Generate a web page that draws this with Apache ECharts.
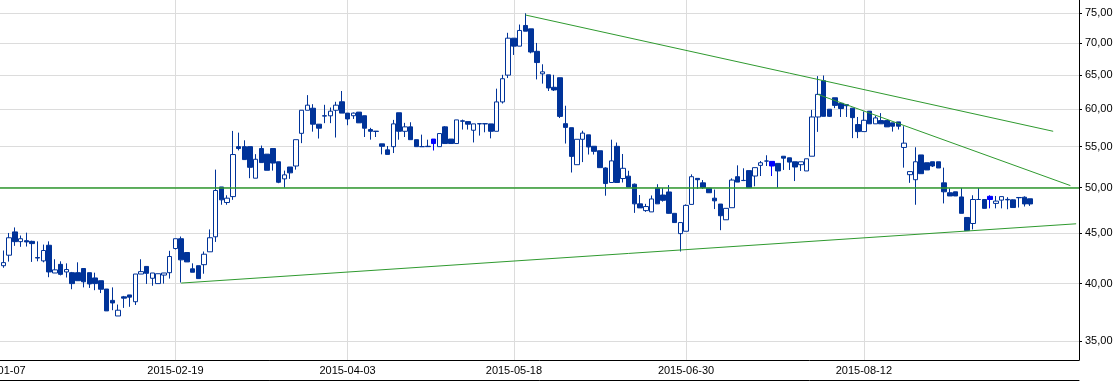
<!DOCTYPE html>
<html><head><meta charset="utf-8">
<script src="https://cdn.jsdelivr.net/npm/echarts@6/dist/echarts.min.js"></script>
<style>html,body{margin:0;padding:0;background:#fff}#c{width:1118px;height:381px}</style>
</head><body><div id="c"></div>
<script>
// ---- data ----
const startDate = '2015-01-07';
const categoryCount = 189;
const holidays = ['2015-04-03', '2015-04-06', '2015-05-01', '2015-05-25'];
const tickLabels = ['2015-01-07', '2015-02-19', '2015-04-03', '2015-05-18', '2015-06-30', '2015-08-12'];
const yTicks = [35, 40, 45, 50, 55, 60, 65, 70, 75];

// candles from 2015-01-08 onwards
const opens = [41.7,42.73,45.11,44.1,44.2,44.13,42.5,42.17,43.73,41.0,41.83,41.1,41.03,41.03,41.43,41.03,40.53,40.27,39.5,38.47,37.1,38.79,38.96,38.35,40.9,41.63,40.5,40.0,40.8,41.03,43.4,
44.4,43.0,41.4,41.7,41.8,43.07,44.6,50.08,48.3,48.97,55.0,55.0,55.0,51.11,54.76,54.05,54.76,53.1,51.03,52.46,52.58,56.73,59.86,60.14,57.95,59.1,59.09,59.86,
61.05,59.46,59.1,59.6,59.1,57.23,57.02,55.36,54.59,55.0,59.51,57.0,57.59,55.9,55.0,55.05,55.98,55.0,57.59,55.98,55.4,58.4,58.3,57.14,58.02,58.02,57.99,
57.0,61.03,64.95,70.78,69.48,72.9,72.33,68.65,65.15,65.0,63.14,64.56,58.02,57.48,52.74,55.95,56.53,55.05,54.48,52.34,50.6,55.04,51.07,51.35,50.4,48.15,47.4,47.26,49.96,49.15,49.5,
47.1,44.93,45.18,48.09,51.09,50.56,49.93,48.79,48.13,46.4,47.72,51.29,50.85,52.02,51.37,52.66,53.19,53.15,52.9,53.79,53.59,53.1,52.74,51.98,53.79,58.93,64.12,60.0,61.62,
60.83,60.64,60.15,57.9,56.96,59.73,58.0,58.44,58.44,58.13,58.26,54.9,51.53,50.93,53.95,52.98,53.1,53.1,50.56,49.41,49.52,48.93,46.65,46.0,48.64,48.64,48.64,48.2,48.57,48.65,48.6,48.87,48.9,48.72];
const highs = [43.2,45.0,45.58,44.73,45.03,44.2,44.13,43.8,44.13,42.33,42.13,41.93,41.1,42.03,41.43,41.03,41.03,40.27,39.5,39.65,38.1,38.87,38.96,40.9,42.33,41.63,41.0,40.93,41.0,43.17,44.4,
44.63,43.0,41.93,41.7,43.1,45.37,52.14,50.08,49.12,57.05,56.82,55.82,55.0,54.05,55.14,54.05,54.76,53.1,52.02,52.46,55.9,59.86,62.0,60.71,57.95,60.62,60.24,61.05,
62.6,59.46,59.55,59.6,59.1,57.46,57.02,55.36,55.08,58.53,59.51,58.13,58.21,55.9,56.56,55.9,55.98,56.7,57.68,55.98,58.53,58.57,58.3,57.99,58.02,58.02,57.99,
62.94,65.0,71.67,70.78,73.06,75.0,72.33,70.0,66.61,65.0,65.0,64.56,60.49,57.48,55.95,57.07,56.53,55.05,54.48,52.42,55.9,55.53,54.07,52.0,50.48,49.15,48.15,49.1,50.4,49.96,50.3,
47.1,46.1,48.09,51.57,51.09,50.89,49.93,49.78,48.13,47.65,51.09,52.66,52.3,52.02,52.38,53.19,53.91,53.15,52.9,53.79,53.59,53.1,53.1,53.47,59.91,64.8,64.9,60.0,61.62,
60.83,60.64,60.15,58.93,59.69,59.73,59.1,59.46,58.44,58.13,58.26,57.68,51.9,54.92,53.95,52.98,53.1,53.1,52.38,49.93,49.52,49.96,46.65,49.12,49.96,48.64,49.12,49.04,48.97,48.9,48.65,48.87,49.0,48.72];
const lows = [41.5,42.1,43.67,43.57,43.6,42.07,42.13,42.03,40.6,41.0,40.77,40.57,39.48,40.27,39.65,39.6,39.39,39.13,37.54,37.6,37.1,37.8,37.9,38.06,40.9,39.97,39.8,40.0,40.0,40.47,43.3,
40.1,42.07,41.07,40.47,40.93,43.07,44.07,48.05,48.05,48.6,54.52,53.37,51.11,51.11,53.0,52.06,52.02,50.52,50.0,51.03,52.14,55.45,59.86,56.95,56.05,58.09,58.09,56.18,
59.46,57.81,58.66,58.13,56.25,55.9,56.25,54.02,54.02,54.19,55.9,56.25,55.9,55.0,55.0,55.0,54.51,55.0,55.4,55.4,55.4,57.23,57.23,55.54,56.43,56.87,56.07,
57.0,60.8,64.51,68.07,69.48,71.94,68.33,64.31,63.68,62.6,62.6,58.78,55.4,51.79,52.74,53.06,54.0,54.0,52.38,49.07,50.6,50.6,50.6,50.07,47.15,47.7,47.26,47.26,48.15,48.4,47.07,
46.1,43.1,45.18,48.09,49.85,49.85,49.41,47.57,45.29,46.4,47.72,50.65,50.77,50.0,50.16,51.37,52.58,51.37,50.0,52.1,52.1,50.77,51.98,51.98,53.79,56.92,59.02,58.93,60.15,
58.93,58.93,56.1,56.1,56.96,58.0,58.0,58.0,57.59,56.96,57.23,52.38,50.56,48.05,51.65,52.1,52.46,52.34,48.2,49.04,49.04,47.1,45.25,45.37,48.64,47.65,47.65,47.65,47.65,47.55,47.74,47.74,47.85,47.92];
const closes = [42.0,44.5,44.1,44.4,44.07,43.9,42.45,43.2,41.1,41.3,40.87,41.33,40.0,40.27,40.17,39.97,40.0,39.48,37.54,38.24,37.6,38.67,38.76,40.9,41.13,40.97,41.0,40.93,41.0,42.6,44.4,
42.27,42.07,41.07,40.47,42.83,44.5,49.67,48.6,48.79,54.0,54.76,53.37,52.42,53.41,53.0,52.06,52.94,50.63,51.51,51.75,55.9,59.86,60.57,57.95,57.41,59.05,59.73,60.57,
59.46,58.66,59.46,58.13,57.41,57.0,56.98,55.04,54.02,57.99,57.0,57.59,55.9,55.0,55.0,55.0,55.4,56.7,55.4,55.4,58.53,58.35,57.95,57.99,57.99,57.99,57.0,
61.03,64.41,70.78,69.48,72.06,71.94,68.54,66.88,65.45,63.04,62.75,59.01,57.52,53.77,55.95,56.76,54.96,54.4,52.38,50.48,53.21,50.6,52.3,50.07,48.15,47.7,47.85,48.7,48.15,48.55,47.1,
46.1,46.1,47.98,51.29,50.93,50.0,49.41,48.49,46.84,47.65,50.89,50.65,50.83,50.0,52.38,52.98,53.19,52.58,51.98,53.55,53.06,52.46,53.1,53.47,58.93,62.11,59.02,59.02,60.54,
60.1,60.49,58.84,56.96,58.48,58.0,58.8,58.0,57.59,57.68,57.68,55.45,51.9,53.1,51.65,52.1,52.58,52.34,49.52,49.04,49.04,47.1,45.25,48.64,48.64,47.65,49.0,48.46,48.97,48.6,47.74,48.84,48.14,48.14];
// candles drawn as flat crosses in bright blue
const dojiDates = ['2015-04-27', '2015-07-21', '2015-09-11'];

// trend lines: [date, price] end points
const trendUpper = [['2015-05-20', 74.7], ['2015-09-28', 57.0]];
const trendLower = [['2015-07-31', 62.1], ['2015-10-01', 50.24]];
const trendSupport = [['2015-02-20', 40.05], ['2015-10-02', 45.97]];
const levelLine = 50;

// ---- build ----
function fmt(d) { return d.toISOString().slice(0, 10); }
const categories = [];
{
  const d = new Date(startDate + 'T00:00:00Z');
  while (categories.length < categoryCount) {
    const s = fmt(d), wd = d.getUTCDay();
    if (wd !== 0 && wd !== 6 && holidays.indexOf(s) < 0) categories.push(s);
    d.setUTCDate(d.getUTCDate() + 1);
  }
}
// each tick label sits on the last trading day not after its date
const labelAt = {};
tickLabels.forEach(t => {
  let idx = 0;
  categories.forEach((c, i) => { if (c <= t) idx = i; });
  labelAt[idx] = t;
});
const showTick = (i) => labelAt[i] !== undefined;

const BLUE = '#003399', DOJI = '#0000ff', GREEN = '#2f9a2f', GRID = '#dcdcdc';
const candleData = [['-', '-', '-', '-']];
for (let k = 0; k < opens.length; k++) {
  const v = [opens[k], closes[k], lows[k], highs[k]];
  const date = categories[k + 1];
  if (dojiDates.indexOf(date) >= 0) {
    candleData.push({ value: v, itemStyle: { color: DOJI, color0: DOJI, borderColor: DOJI, borderColor0: DOJI } });
  } else candleData.push(v);
}

const font = '"Liberation Sans", Arial, sans-serif';
const trendStyle = { type: 'line', symbol: 'none', silent: true, z: 5, animation: false,
  lineStyle: { color: GREEN, width: 1 } };

const chart = echarts.init(document.getElementById('c'), null, { renderer: 'canvas' });
chart.setOption({
  animation: false,
  backgroundColor: '#fff',
  grid: { left: -5.3, right: 39, top: 0, bottom: 21, containLabel: false, outerBoundsMode: 'none' },
  xAxis: [{
    type: 'category', data: categories, boundaryGap: true,
    axisLine: { show: true, lineStyle: { color: '#000', width: 1 } },
    axisTick: { show: false },
    axisLabel: { interval: showTick, formatter: (v, i) => labelAt[categories.indexOf(v)] || v,
      margin: 5, fontSize: 11, color: '#000', fontFamily: font },
    splitLine: { show: true, interval: showTick, alignWithLabel: true, lineStyle: { color: GRID, width: 1 } }
  }, {
    type: 'category', data: categories, position: 'bottom', offset: 20,
    axisLine: { show: true, lineStyle: { color: '#000', width: 1 } },
    axisTick: { show: false }, axisLabel: { show: false }, splitLine: { show: false }
  }],
  yAxis: {
    type: 'log', logBase: 10, position: 'right', min: 33.49, max: 77.35,
    axisLine: { show: true, lineStyle: { color: '#000', width: 1 } },
    axisTick: { show: true, length: 3, customValues: yTicks, lineStyle: { color: '#000' } },
    axisLabel: { customValues: yTicks, formatter: v => Number(v).toFixed(2).replace('.', ','),
      margin: 6, fontSize: 11, color: '#000', fontFamily: font },
    splitLine: { show: true, lineStyle: { color: GRID, width: 1 } },
    minorTick: { show: false }, minorSplitLine: { show: false }
  },
  series: [
    {
      type: 'candlestick', data: candleData, barWidth: 5, z: 2,
      itemStyle: { color: '#ffffff', color0: BLUE, borderColor: BLUE, borderColor0: BLUE, borderWidth: 1 }
    },
    Object.assign({}, trendStyle, { data: trendUpper }),
    Object.assign({}, trendStyle, { data: trendLower }),
    Object.assign({}, trendStyle, { data: trendSupport,
      markLine: { silent: true, symbol: 'none', label: { show: false }, z: 5,
        lineStyle: { color: GREEN, width: 1.5, type: 'solid' }, data: [{ yAxis: levelLine }] } })
  ]
});
</script></body></html>
